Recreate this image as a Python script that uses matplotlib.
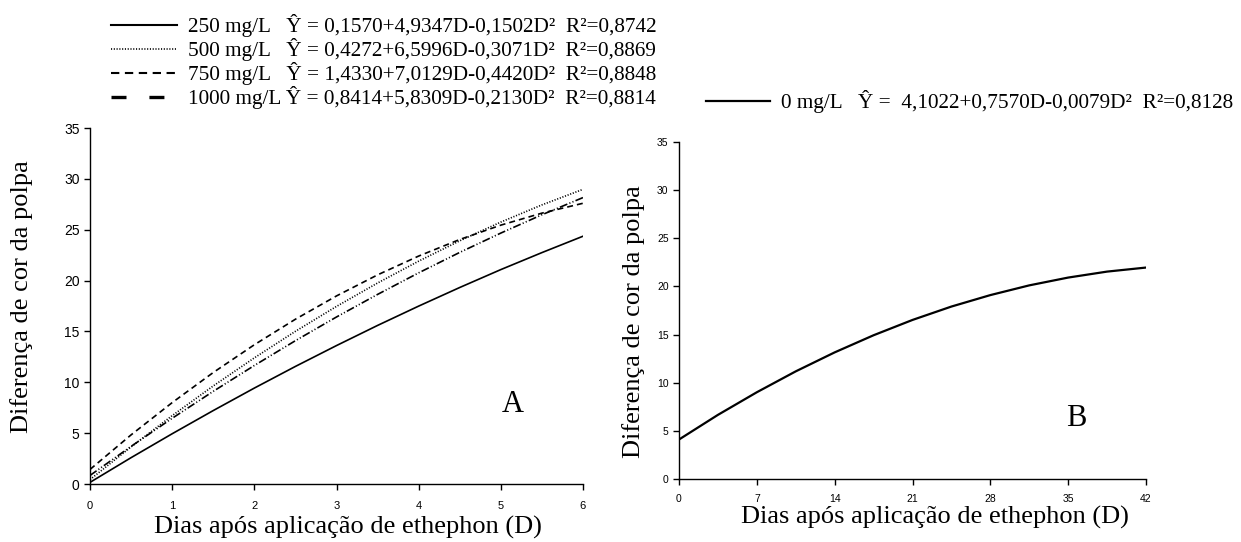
import matplotlib
matplotlib.use("Agg")
import matplotlib.pyplot as plt
from matplotlib.lines import Line2D
import numpy as np

days_a = [0, 0.5, 1, 1.5, 2, 2.5, 3, 3.5, 4, 4.5, 5, 5.5, 6]
y_250 = [0.16, 2.59, 4.94, 7.22, 9.43, 11.56, 13.61, 15.59, 17.49, 19.32, 21.08, 22.75, 24.36]
y_500 = [0.43, 3.65, 6.72, 9.64, 12.40, 15.01, 17.46, 19.76, 21.91, 23.91, 25.75, 27.44, 28.97]
y_750 = [1.43, 4.83, 8.00, 10.96, 13.69, 16.20, 18.49, 20.56, 22.41, 24.04, 25.45, 26.63, 27.60]
y_1000 = [0.84, 3.70, 6.46, 9.11, 11.65, 14.09, 16.42, 18.64, 20.76, 22.77, 24.67, 26.47, 28.16]

days_b = [0, 3.5, 7, 10.5, 14, 17.5, 21, 24.5, 28, 31.5, 35, 38.5, 42]
y_0 = [4.10, 6.66, 9.01, 11.18, 13.15, 14.93, 16.52, 17.91, 19.10, 20.11, 20.92, 21.54, 21.96]

labels_a = [
    "250 mg/L   Ŷ = 0,1570+4,9347D-0,1502D²  R²=0,8742",
    "500 mg/L   Ŷ = 0,4272+6,5996D-0,3071D²  R²=0,8869",
    "750 mg/L   Ŷ = 1,4330+7,0129D-0,4420D²  R²=0,8848",
    "1000 mg/L Ŷ = 0,8414+5,8309D-0,2130D²  R²=0,8814",
]
label_b = "0 mg/L   Ŷ =  4,1022+0,7570D-0,0079D²  R²=0,8128"

xticks_a = [0, 1, 2, 3, 4, 5, 6]
xticks_b = [0, 7, 14, 21, 28, 35, 42]
yticks = [0, 5, 10, 15, 20, 25, 30, 35]

ylabel = "Diferença de cor da polpa"
xlabel = "Dias após aplicação de ethephon (D)"

plt.rcParams['lines.scale_dashes'] = False
serif = "Liberation Serif"
sans = "Liberation Sans"

fig = plt.figure(figsize=(12.41, 5.42), dpi=100)
W, H = 1241, 542

def axes_px(x0, x1, ytop, ybot):
    return fig.add_axes([x0 / W, 1 - ybot / H, (x1 - x0) / W, (ybot - ytop) / H])

axA = axes_px(90, 583, 128, 484)
axB = axes_px(679, 1146, 142, 479)

lw = 1.2
styles_a = ['-', (0, (0.8, 1.2)), (0, (4.3, 2.9)), (0, (5.8, 1.6, 0.8, 1.6, 0.8, 1.6))]
series_a = [y_250, y_500, y_750, y_1000]
for ys, st in zip(series_a, styles_a):
    axA.plot(days_a, ys, color='black', lw=lw, linestyle=st)
lB, = axB.plot(days_b, y_0, color='black', lw=1.6, linestyle='-')

# legend keys as drawn in the reference legend box
leg_styles = ['-', (0, (0.8, 1.2)), (0, (6.0, 4.0)), (0, (10.8, 16.5))]
leg_widths = [1.5, 1.2, 1.5, 2.4]
handles_a = [Line2D([], [], color='black', lw=w, linestyle=s) for s, w in zip(leg_styles, leg_widths)]

for ax, xt, xlim, tsx, tsy, padx in [(axA, xticks_a, (0, 6), 8, 10, 8), (axB, xticks_b, (0, 42), 7.5, 7.5, 7)]:
    ax.set_xlim(*xlim)
    ax.set_ylim(0, 35)
    ax.set_xticks(xt)
    ax.set_yticks(yticks)
    ax.spines['top'].set_visible(False)
    ax.spines['right'].set_visible(False)
    for s in ('left', 'bottom'):
        ax.spines[s].set_linewidth(1.0)
    ax.tick_params(direction='out', length=4, width=1.0)
    ax.tick_params(axis='x', pad=padx)
    for t in ax.get_xticklabels():
        t.set_fontfamily(sans); t.set_fontsize(tsx)
    for t in ax.get_yticklabels():
        t.set_fontfamily(sans); t.set_fontsize(tsy)
    ax.patch.set_alpha(0)

lab_fs = 19
axA.set_ylabel(ylabel, fontfamily=serif, fontsize=lab_fs)
axA.yaxis.set_label_coords(-0.116, 0.525)
axA.set_xlabel(xlabel, fontfamily=serif, fontsize=lab_fs)
axA.xaxis.set_label_coords(0.524, -0.09)
axB.set_ylabel(ylabel, fontfamily=serif, fontsize=lab_fs)
axB.yaxis.set_label_coords(-0.073, 0.466)
axB.set_xlabel(xlabel, fontfamily=serif, fontsize=lab_fs)
axB.xaxis.set_label_coords(0.548, -0.08)

axA.text(0.857, 0.202, "A", transform=axA.transAxes, fontfamily=serif, fontsize=22, ha='center', va='baseline')
axB.text(0.850, 0.157, "B", transform=axB.transAxes, fontfamily=serif, fontsize=22, ha='center', va='baseline')

leg_fs = 15.3
legA = fig.legend(handles_a, labels_a, loc='upper left',
                  bbox_to_anchor=(111 / W, 1 - 14 / H), frameon=False,
                  prop={'family': serif, 'size': leg_fs}, handlelength=3.1,
                  handletextpad=0.52, labelspacing=0.05, borderpad=0, borderaxespad=0)
legB = fig.legend([lB], [label_b], loc='upper left',
                  bbox_to_anchor=(706 / W, 1 - 90 / H), frameon=False,
                  prop={'family': serif, 'size': leg_fs}, handlelength=3.0,
                  handletextpad=0.55, borderpad=0, borderaxespad=0)

fig.savefig("out.png", dpi=100)
